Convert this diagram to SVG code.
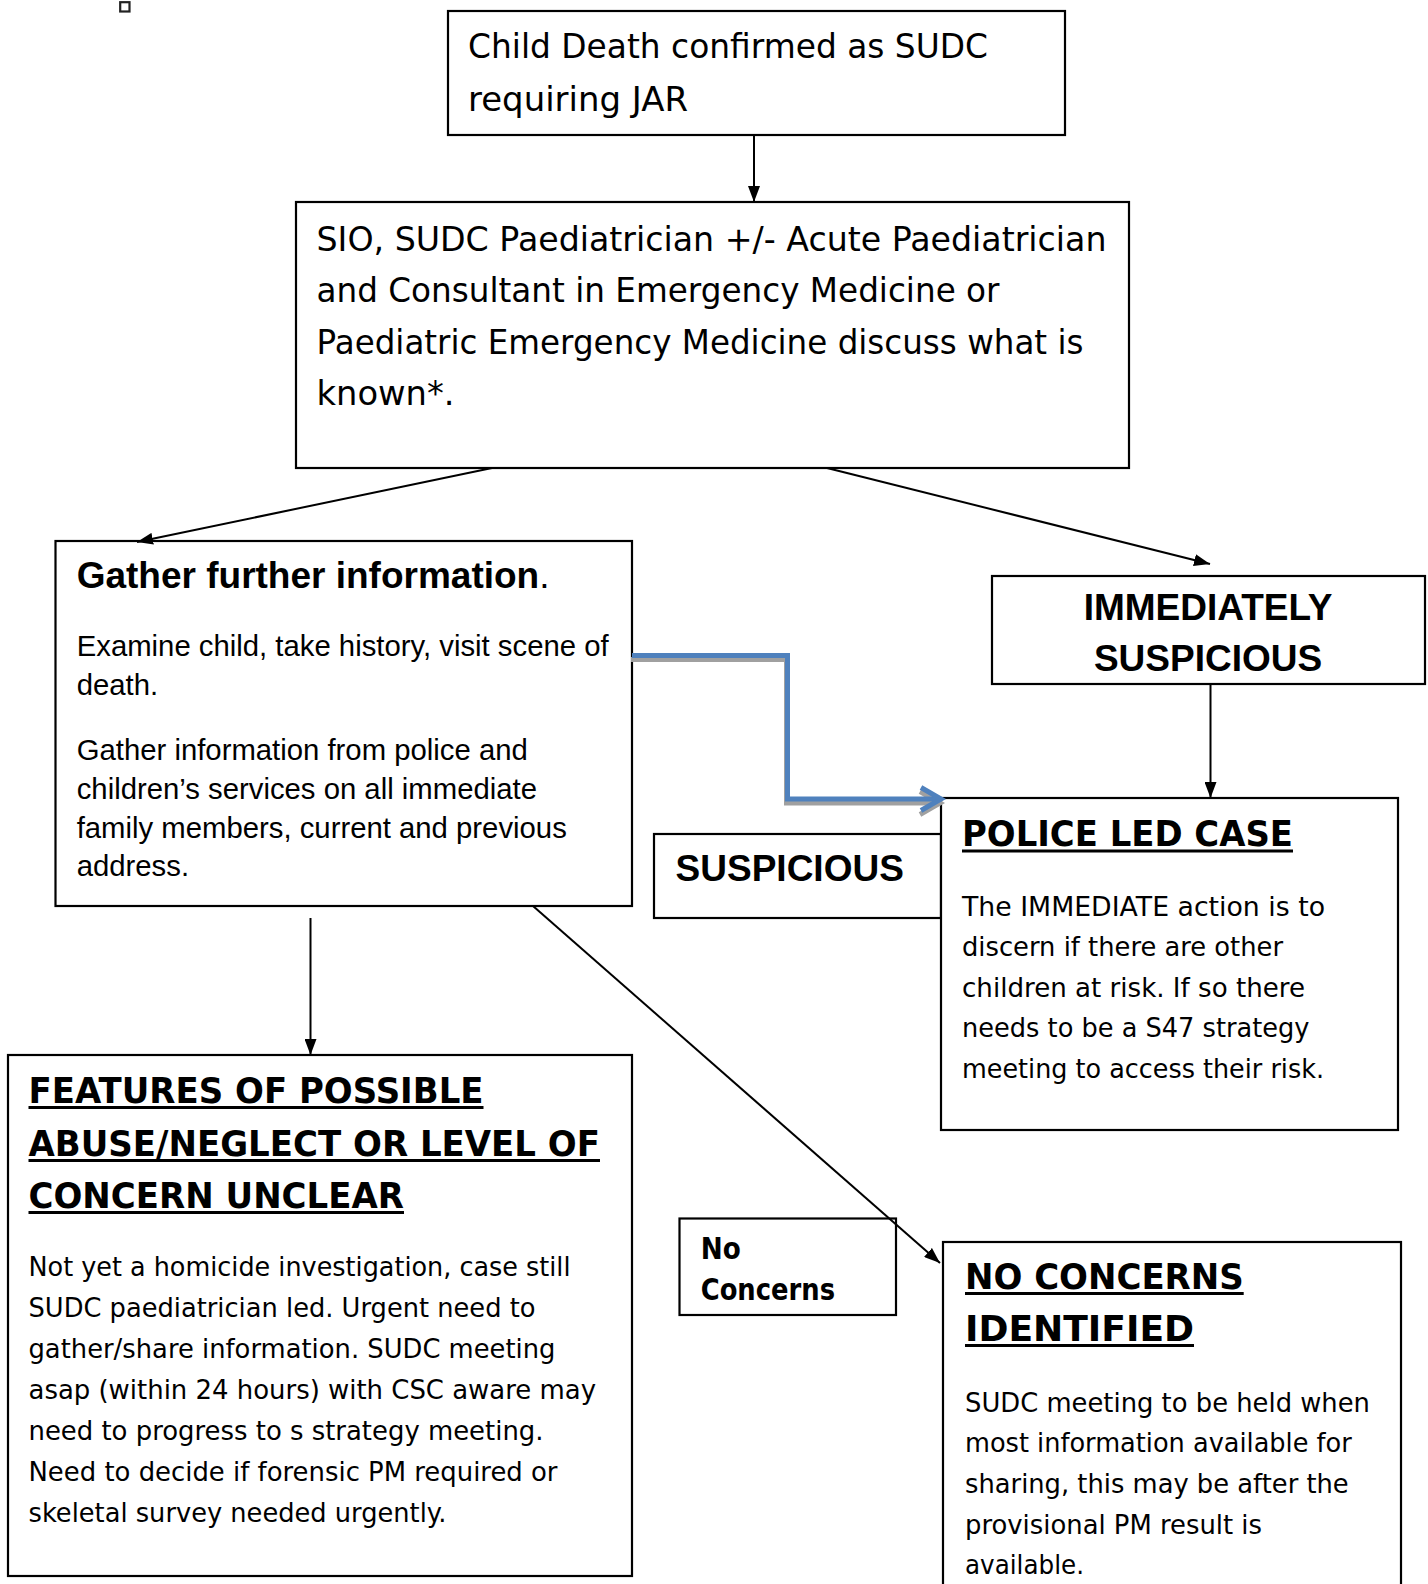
<svg xmlns="http://www.w3.org/2000/svg" width="1428" height="1584" viewBox="0 0 1428 1584">
<defs>
<style>
.box{fill:#fff;stroke:#000;stroke-width:2.2}
.t{font-family:"DejaVu Sans",Verdana,sans-serif;fill:#000}
.a{font-family:"Liberation Sans",Arial,sans-serif;fill:#000}
.b{font-weight:bold}
.conn{stroke:#000;stroke-width:2;fill:none}
.ul{stroke:#000;stroke-width:3}
.blue{stroke:#4f81bd;stroke-width:5;fill:none;stroke-linejoin:miter}
.shadow{stroke:#a0a0a0;stroke-width:5;fill:none}
</style>
<marker id="ah" viewBox="0 0 16 12" refX="16" refY="6" markerWidth="16" markerHeight="12" markerUnits="userSpaceOnUse" orient="auto">
<path d="M0,0 L16,6 L0,12 z" fill="#000"/>
</marker>
</defs>
<rect width="1428" height="1584" fill="#fff"/>

<g id="mark">
<rect x="120.2" y="2.2" width="9.3" height="9.3" fill="#fff" stroke="#222" stroke-width="2.2"/>
</g>

<g id="n-start">
<rect class="box" x="448" y="11" width="617" height="124"/>
<text class="t" font-size="33" x="468" y="58" textLength="520" lengthAdjust="spacingAndGlyphs">Child Death confirmed as SUDC</text>
<text class="t" font-size="33" x="468" y="111" textLength="220" lengthAdjust="spacingAndGlyphs">requiring JAR</text>
</g>

<g id="n-discuss">
<rect class="box" x="296" y="202" width="833" height="266"/>
<text class="t" font-size="33" x="316.5" y="250.5" textLength="790" lengthAdjust="spacingAndGlyphs">SIO, SUDC Paediatrician +/- Acute Paediatrician</text>
<text class="t" font-size="33" x="316.5" y="302" textLength="683" lengthAdjust="spacingAndGlyphs">and Consultant in Emergency Medicine or</text>
<text class="t" font-size="33" x="316.5" y="353.5" textLength="767" lengthAdjust="spacingAndGlyphs">Paediatric Emergency Medicine discuss what is</text>
<text class="t" font-size="33" x="316.5" y="405" textLength="138" lengthAdjust="spacingAndGlyphs">known*.</text>
</g>

<g id="n-gather">
<rect class="box" x="55.5" y="541" width="576.5" height="365"/>
<text class="a b" font-size="37" x="76.7" y="588">Gather further information<tspan font-weight="normal">.</tspan></text>
<text class="a" font-size="29.3" x="76.7" y="656">Examine child, take history, visit scene of</text>
<text class="a" font-size="29.3" x="76.7" y="694.5">death.</text>
<text class="a" font-size="29.3" x="76.7" y="760">Gather information from police and</text>
<text class="a" font-size="29.3" x="76.7" y="798.5">children’s services on all immediate</text>
<text class="a" font-size="29.3" x="76.7" y="837.5">family members, current and previous</text>
<text class="a" font-size="29.3" x="76.7" y="876">address.</text>
</g>

<g id="n-immediately">
<rect class="box" x="992" y="576" width="433" height="108"/>
<text class="a b" font-size="37" x="1208" y="620" text-anchor="middle">IMMEDIATELY</text>
<text class="a b" font-size="37" x="1208" y="670.5" text-anchor="middle">SUSPICIOUS</text>
</g>

<g id="n-suspicious">
<rect class="box" x="654" y="834" width="287" height="84"/>
<text class="a b" font-size="37" x="675.6" y="881">SUSPICIOUS</text>
</g>

<g id="n-police">
<rect class="box" x="941" y="798" width="457" height="332"/>
<text class="t b" font-size="36" x="962" y="846" textLength="331" lengthAdjust="spacingAndGlyphs">POLICE LED CASE</text>
<line class="ul" x1="962" y1="851" x2="1293" y2="851"/>
<text class="t" font-size="27" x="962" y="915.5" textLength="363" lengthAdjust="spacingAndGlyphs">The IMMEDIATE action is to</text>
<text class="t" font-size="27" x="962" y="956" textLength="321" lengthAdjust="spacingAndGlyphs">discern if there are other</text>
<text class="t" font-size="27" x="962" y="996.5" textLength="343" lengthAdjust="spacingAndGlyphs">children at risk. If so there</text>
<text class="t" font-size="27" x="962" y="1037" textLength="347.5" lengthAdjust="spacingAndGlyphs">needs to be a S47 strategy</text>
<text class="t" font-size="27" x="962" y="1078" textLength="362" lengthAdjust="spacingAndGlyphs">meeting to access their risk.</text>
</g>

<g id="n-features">
<rect class="box" x="8" y="1055" width="624" height="521"/>
<text class="t b" font-size="36" x="28.5" y="1103" textLength="455" lengthAdjust="spacingAndGlyphs">FEATURES OF POSSIBLE</text>
<line class="ul" x1="28.5" y1="1107.5" x2="483.5" y2="1107.5"/>
<text class="t b" font-size="36" x="28.5" y="1156" textLength="571.5" lengthAdjust="spacingAndGlyphs">ABUSE/NEGLECT OR LEVEL OF</text>
<line class="ul" x1="28.5" y1="1160.5" x2="600" y2="1160.5"/>
<text class="t b" font-size="36" x="28.5" y="1208" textLength="375.5" lengthAdjust="spacingAndGlyphs">CONCERN UNCLEAR</text>
<line class="ul" x1="28.5" y1="1212.5" x2="404" y2="1212.5"/>
<text class="t" font-size="27" x="28.5" y="1276" textLength="542" lengthAdjust="spacingAndGlyphs">Not yet a homicide investigation, case still</text>
<text class="t" font-size="27" x="28.5" y="1317" textLength="507" lengthAdjust="spacingAndGlyphs">SUDC paediatrician led. Urgent need to</text>
<text class="t" font-size="27" x="28.5" y="1358" textLength="527" lengthAdjust="spacingAndGlyphs">gather/share information. SUDC meeting</text>
<text class="t" font-size="27" x="28.5" y="1399" textLength="567.5" lengthAdjust="spacingAndGlyphs">asap (within 24 hours) with CSC aware may</text>
<text class="t" font-size="27" x="28.5" y="1440" textLength="515" lengthAdjust="spacingAndGlyphs">need to progress to s strategy meeting.</text>
<text class="t" font-size="27" x="28.5" y="1481" textLength="529" lengthAdjust="spacingAndGlyphs">Need to decide if forensic PM required or</text>
<text class="t" font-size="27" x="28.5" y="1522" textLength="418" lengthAdjust="spacingAndGlyphs">skeletal survey needed urgently.</text>
</g>

<g id="n-noconcerns-label">
<rect class="box" x="679.5" y="1218.5" width="216.5" height="96.5"/>
<text class="t b" font-size="30" x="700.7" y="1259.3" textLength="40" lengthAdjust="spacingAndGlyphs">No</text>
<text class="t b" font-size="30" x="700.7" y="1300" textLength="134.3" lengthAdjust="spacingAndGlyphs">Concerns</text>
</g>

<g id="n-noconcerns">
<rect class="box" x="943" y="1242" width="458" height="360"/>
<text class="t b" font-size="36" x="965" y="1289.3" textLength="278.7" lengthAdjust="spacingAndGlyphs">NO CONCERNS</text>
<line class="ul" x1="965" y1="1293.5" x2="1243.7" y2="1293.5"/>
<text class="t b" font-size="36" x="965" y="1341" textLength="229" lengthAdjust="spacingAndGlyphs">IDENTIFIED</text>
<line class="ul" x1="965" y1="1345.5" x2="1194" y2="1345.5"/>
<text class="t" font-size="27" x="965" y="1412" textLength="405" lengthAdjust="spacingAndGlyphs">SUDC meeting to be held when</text>
<text class="t" font-size="27" x="965" y="1452" textLength="386.8" lengthAdjust="spacingAndGlyphs">most information available for</text>
<text class="t" font-size="27" x="965" y="1493" textLength="383.7" lengthAdjust="spacingAndGlyphs">sharing, this may be after the</text>
<text class="t" font-size="27" x="965" y="1533.5" textLength="297" lengthAdjust="spacingAndGlyphs">provisional PM result is</text>
<text class="t" font-size="27" x="965" y="1574" textLength="119" lengthAdjust="spacingAndGlyphs">available.</text>
</g>

<g id="connectors">
<line class="conn" x1="754" y1="135" x2="754" y2="202" marker-end="url(#ah)"/>
<line class="conn" x1="492" y1="468" x2="137" y2="542" marker-end="url(#ah)"/>
<line class="conn" x1="827" y1="468" x2="1210" y2="564" marker-end="url(#ah)"/>
<line class="conn" x1="1210.5" y1="684" x2="1210.5" y2="798" marker-end="url(#ah)"/>
<line class="conn" x1="310.5" y1="918" x2="310.5" y2="1055" marker-end="url(#ah)"/>
<line class="conn" x1="533" y1="906" x2="940" y2="1263" marker-end="url(#ah)"/>
<g transform="translate(-1,4)">
<polyline class="shadow" points="632,655.5 787.5,655.5 787.5,799 940,799"/>
<polyline class="shadow" points="921,787.5 941,799 921,810.5"/>
</g>
<polyline class="blue" points="632,655.5 787.5,655.5 787.5,799 940,799"/>
<polyline class="blue" points="921,787.5 941,799 921,810.5"/>
</g>
</svg>
